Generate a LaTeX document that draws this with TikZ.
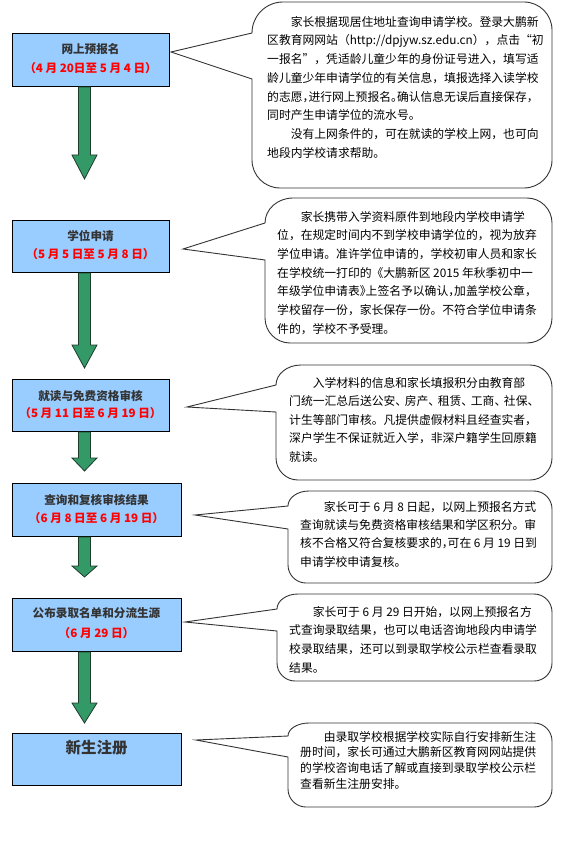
\documentclass[tikz,border=0pt]{standalone}
\usepackage{fontspec}
\setmainfont{Noto Sans CJK SC}
\definecolor{boxblue}{HTML}{99CCFF}
\definecolor{arrgreen}{HTML}{339966}
\definecolor{arredge}{HTML}{1E3D2C}
\definecolor{titlegray}{HTML}{333333}
\newcommand{\nc}[1]{\makebox[0.5em][l]{#1}}
\newcommand{\nd}[1]{\makebox[0.8em][l]{#1}}
\newcommand{\oq}{\makebox[1em][r]{“}}
\newcommand{\cq}{\makebox[1em][l]{”}}
\newcommand{\ind}{\hspace*{2em}}
% bubble: x0,y0,x1,y1,tipx,tipy,base1,base2,R
\newcommand{\bubble}[9]{%
  \draw[bub] (#1,#7) -- (#5,#6) -- (#1,#8)
  -- (#1,{#4-#9})
  .. controls (#1,{#4-0.448*#9}) and ({#1+0.448*#9},#4) .. ({#1+#9},#4)
  -- ({#3-#9},#4)
  .. controls ({#3-0.448*#9},#4) and (#3,{#4-0.448*#9}) .. (#3,{#4-#9})
  -- (#3,{#2+#9})
  .. controls (#3,{#2+0.448*#9}) and ({#3-0.448*#9},#2) .. ({#3-#9},#2)
  -- ({#1+#9+3},#2)
  .. controls ({#1+0.448*(#9+3)},#2) and (#1,{#2+0.448*(#7-#2)}) .. (#1,#7)
  -- cycle;}
% block arrow: top y, head base y, tip y
\newcommand{\blkarrow}[3]{%
  \draw[garrow] (78.5,#1) -- (90.5,#1) -- (90.5,#2) -- (97,#2) -- (84.5,#3)
  -- (72,#2) -- (78.5,#2) -- cycle;}
\begin{document}
\begin{tikzpicture}[x=1pt,y=-1pt,
  stagebox/.style={draw=black, line width=1pt, fill=boxblue, inner sep=0pt, anchor=north west},
  titletext/.style={font=\fontsize{11.6}{14}\selectfont\bfseries, text=titlegray, inner sep=0pt},
  datetext/.style={font=\fontsize{11.6}{14}\selectfont\bfseries, text=red, inner sep=0pt},
  bub/.style={draw=black!80, line width=0.9pt, fill=white, line join=miter},
  bubtext/.style={inner sep=0pt, anchor=north west, align=left, text=black},
  garrow/.style={draw=arredge, line width=0.8pt, fill=arrgreen, line join=miter}]
\useasboundingbox (0,0) rectangle (568,850);

% ---- callout bubbles
\bubble{252}{2}{552}{188}{171}{52}{33}{79}{28}
\bubble{265}{198}{552}{343}{183}{249}{223}{260}{25}
\bubble{276}{365}{552}{480}{187}{407}{385}{412}{22}
\bubble{288}{491}{552}{583}{195}{515}{506}{529}{18}
\bubble{277}{594}{552}{681}{185}{622}{609}{631}{18}
\bubble{288}{723}{552}{807}{196}{740}{736}{757}{18}

% ---- stage boxes
\node[stagebox, minimum width=157, minimum height=53] (s1) at (12,33) {};
\node[stagebox, minimum width=157, minimum height=52] (s2) at (12,220) {};
\node[stagebox, minimum width=157, minimum height=52] (s3) at (12,379) {};
\node[stagebox, minimum width=169, minimum height=53] (s4) at (12,483) {};
\node[stagebox, minimum width=169, minimum height=53] (s5) at (12,598) {};
\node[stagebox, minimum width=169, minimum height=52] (s6) at (12,733) {};

\node[titletext] (s1t) at (90.5,49) {网上预报名};
\node[datetext]  (s1d) at (90.5,68) {（4 月 20日至 5 月 4 日）};
\node[titletext] (s2t) at (90.5,236) {学位申请};
\node[datetext]  (s2d) at (90.5,254) {（5 月 5 日至 5 月 8 日）};
\node[titletext] (s3t) at (90.5,396) {就读与免费资格审核};
\node[datetext]  (s3d) at (90.5,413) {（5 月 11 日至 6 月 19 日）};
\node[titletext] (s4t) at (96.5,500) {查询和复核审核结果};
\node[datetext]  (s4d) at (96.5,518) {（6 月 8 日至 6 月 19 日）};
\node[titletext] (s5t) at (96.5,613) {公布录取名单和分流生源};
\node[datetext]  (s5d) at (96.5,633) {（6 月 29 日）};
\node[titletext, font=\fontsize{15.5}{18}\selectfont\bfseries] (s6t) at (96.5,748) {新生注册};

% ---- block arrows
\blkarrow{87}{155}{179}
\blkarrow{273}{345}{368}
\blkarrow{432}{458}{471}
\blkarrow{537}{566}{577}
\blkarrow{652}{703}{723}

% ---- bubble texts
\node[bubtext, font=\fontsize{11.8}{18.7}\selectfont] (t1) at (267,16) {%
\ind 家长根据现居住地址查询申请学校。登录大鹏新\\
区教育网网站（http://dpjyw.sz.edu.cn），点击\oq 初\\
一报名\cq ，凭适龄儿童少年的身份证号进入，填写适\\
龄儿童少年申请学位的有关信息，填报选择入读学校\\
的志愿\nc{，}进行网上预报名\nc{。}确认信息无误后直接保存，\\
同时产生申请学位的流水号。\\
\ind 没有上网条件的，可在就读的学校上网，也可向\\
地段内学校请求帮助。};

\node[bubtext, font=\fontsize{11.8}{18.67}\selectfont] (t2) at (277,211) {%
\ind 家长携带入学资料原件到地段内学校申请学\\
位，在规定时间内不到学校申请学位的，视为放弃\\
学位申请。准许学位申请的，学校初审人员和家长\\
在学校统一打印的《大鹏新区 2015 年秋季初中一\\
年级学位申请表\nc{》}上签名予以确认\nc{，}加盖学校公章，\\
学校留存一份，家长保存一份。不符合学位申请条\\
件的，学校不予受理。};

\node[bubtext, font=\fontsize{11.8}{18.5}\selectfont] (t3) at (289,377) {%
\ind 入学材料的信息和家长填报积分由教育部\\
门统一汇总后送公安\nd{、}房产\nd{、}租赁\nd{、}工商\nd{、}社保\nd{、}\\
计生等部门审核。凡提供虚假材料且经查实者，\\
深户学生不保证就近入学，非深户籍学生回原籍\\
就读。};

\node[bubtext, font=\fontsize{11.8}{18.3}\selectfont] (t4) at (300,501) {%
\ind 家长可于 6 月 8 日起，以网上预报名方式\\
查询就读与免费资格审核结果和学区积分。审\\
核不合格又符合复核要求的\nc{，}可在 6 月 19 日到\\
申请学校申请复核。};

\node[bubtext, font=\fontsize{11.8}{18.67}\selectfont] (t5) at (289,606) {%
\ind 家长可于 6 月 29 日开始，以网上预报名方\\
式查询录取结果，也可以电话咨询地段内申请学\\
校录取结果，还可以到录取学校公示栏查看录取\\
结果。};

\node[bubtext, font=\fontsize{11.8}{15.7}\selectfont] (t6) at (300,731) {%
\ind 由录取学校根据学校实际自行安排新生注\\
册时间，家长可通过大鹏新区教育网网站提供\\
的学校咨询电话了解或直接到录取学校公示栏\\
查看新生注册安排。};
\end{tikzpicture}
\end{document}
